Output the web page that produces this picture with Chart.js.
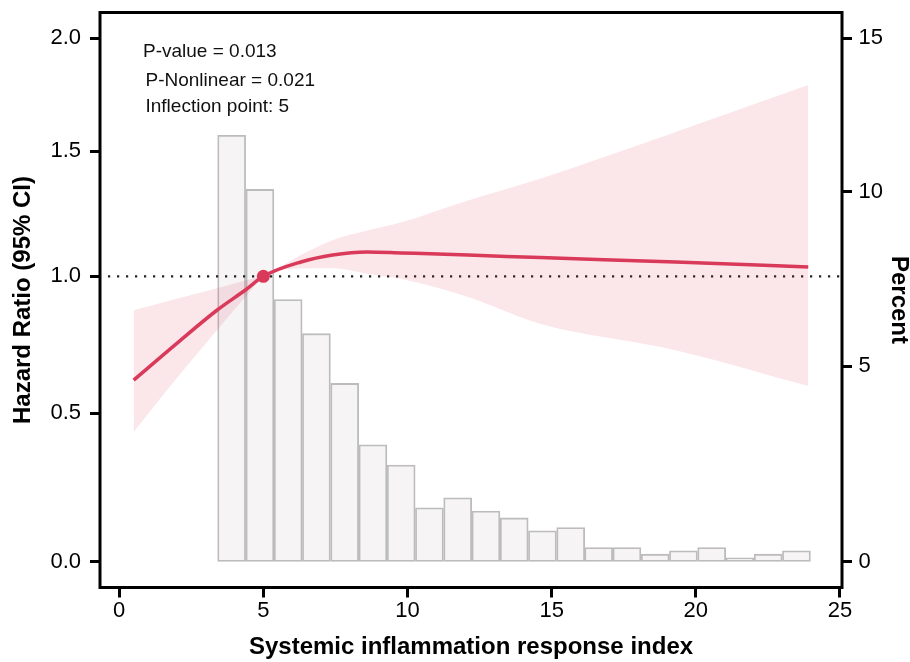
<!DOCTYPE html>
<html><head><meta charset="utf-8">
<script src="https://cdn.jsdelivr.net/npm/chart.js@4.4.1/dist/chart.umd.min.js"></script>
<style>html,body{margin:0;padding:0;background:#fff;}#wrap{width:910px;height:662px;}</style>
</head><body><div id="wrap"><canvas id="c" width="910" height="662"></canvas></div>
<script>
// ---- data ----
const xTicks = [0, 5, 10, 15, 20, 25];
const hrTicks = [0.0, 0.5, 1.0, 1.5, 2.0];
const pctTicks = [0, 5, 10, 15];

const splineX = [0.5, 2.0, 3.4, 4.4, 5.0, 6.3, 7.4, 8.6, 9.8, 12.1, 14.6, 19.3, 23.9];
const hrValues = [0.617, 0.750, 0.873, 0.950, 1.000, 1.055, 1.082, 1.094, 1.090, 1.082, 1.072, 1.055, 1.036];
const hrUpper  = [0.872, 0.915, 0.955, 0.985, 1.003, 1.082, 1.140, 1.178, 1.211, 1.298, 1.386, 1.582, 1.786];
const hrLower  = [0.435, 0.625, 0.800, 0.925, 0.997, 1.030, 1.031, 1.010, 0.990, 0.922, 0.822, 0.725, 0.596];

const binCenters = [3.90, 4.88, 5.86, 6.84, 7.82, 8.80, 9.78, 10.76, 11.74, 12.72, 13.70,
                    14.68, 15.66, 16.63, 17.61, 18.59, 19.57, 20.55, 21.53, 22.51, 23.49];
const binPercent = [11.76, 10.07, 6.84, 5.89, 4.54, 2.93, 2.41, 1.33, 1.58, 1.25, 1.08,
                    0.76, 0.84, 0.35, 0.35, 0.19, 0.27, 0.35, 0.10, 0.19, 0.27];

const inflectionX = [5];
const inflectionY = [1.0];
const referenceHR = 1.0;
const annotationLines = ["P-value = 0.013", "P-Nonlinear = 0.021", "Inflection point: 5"];

// ---- vertical scale matching the reference's axis spacing ----
const WARP = 0.2;
class WarpedScale extends Chart.LinearScale {
  getPixelForDecimal(d) { return super.getPixelForDecimal(d + WARP * d * (1 - d)); }
  getDecimalForPixel(p) {
    const g = super.getDecimalForPixel(p);
    const a = 1 + WARP;
    return (a - Math.sqrt(a * a - 4 * WARP * g)) / (2 * WARP);
  }
}
WarpedScale.id = 'warped';
WarpedScale.defaults = Chart.LinearScale.defaults;
Chart.register(WarpedScale);

const pts = (xs, ys) => xs.map((x, i) => ({x: x, y: ys[i]}));
const RED = '#DA3A5A';
const FONT = "'Liberation Sans', Arial, Helvetica, sans-serif";

const framePlugin = {
  id: 'frame',
  afterDatasetDraw(chart, args) {
    if (args.index !== 0) return;
    const {ctx, chartArea: a} = chart;
    const y = chart.scales.y.getPixelForValue(referenceHR);
    ctx.save();
    ctx.strokeStyle = '#222';
    ctx.lineWidth = 2.2;
    ctx.setLineDash([2.2, 6.8]);
    ctx.beginPath(); ctx.moveTo(a.left + 8, y); ctx.lineTo(a.right, y); ctx.stroke();
    ctx.restore();
  },
  afterDraw(chart) {
    const {ctx, chartArea: a} = chart;
    ctx.save();
    ctx.strokeStyle = '#000';
    ctx.lineWidth = 3;
    ctx.strokeRect(a.left, a.top, a.right - a.left, a.bottom - a.top);
    ctx.fillStyle = '#111';
    ctx.font = "19px " + FONT;
    ctx.textBaseline = 'alphabetic';
    ctx.textAlign = 'left';
    const xs = [143, 145.5, 145.5], ys = [57, 85.5, 111.5];
    annotationLines.forEach((t, i) => ctx.fillText(t, xs[i], ys[i]));
    ctx.restore();
  }
};

const tickGrid = {drawOnChartArea: false, drawTicks: true, tickLength: 10, tickWidth: 3, tickColor: '#000', offset: false};
const noPadY = w => s => { s.width = w; s.paddingTop = 0; s.paddingBottom = 0; };

new Chart(document.getElementById('c'), {
  type: 'line',
  data: {
    datasets: [
      { type: 'bar', data: pts(binCenters, binPercent), xAxisID: 'x', yAxisID: 'y2',
        backgroundColor: '#F6F4F5', borderColor: '#BCBCBC', borderWidth: 1.8, borderSkipped: false,
        barPercentage: 1, categoryPercentage: 1, order: 5 },
      { type: 'line', data: pts(splineX, hrLower), yAxisID: 'y', borderWidth: 0, borderColor: 'rgba(0,0,0,0)',
        pointRadius: 0, fill: false, cubicInterpolationMode: 'monotone', order: 4 },
      { type: 'line', data: pts(splineX, hrUpper), yAxisID: 'y', borderWidth: 0, borderColor: 'rgba(0,0,0,0)',
        pointRadius: 0, fill: '-1', backgroundColor: 'rgba(220,50,80,0.12)', cubicInterpolationMode: 'monotone', order: 3 },
      { type: 'line', data: pts(splineX, hrValues), yAxisID: 'y', borderColor: RED, borderWidth: 3.5,
        pointRadius: 0, fill: false, cubicInterpolationMode: 'monotone', order: 2 },
      { type: 'line', data: pts(inflectionX, inflectionY), yAxisID: 'y', showLine: false,
        pointRadius: 6.5, pointBackgroundColor: RED, pointBorderColor: RED, pointBorderWidth: 0, order: 1 }
    ]
  },
  options: {
    responsive: false,
    animation: false,
    devicePixelRatio: 1,
    layout: { padding: {top: 12.5, left: 0, right: 0, bottom: 0} },
    plugins: { legend: {display: false}, tooltip: {enabled: false} },
    scales: {
      x: {
        type: 'linear', position: 'bottom', min: -0.666, max: 25.07, offset: false,
        afterBuildTicks: s => { s.ticks = xTicks.map(v => ({value: v})); },
        afterFit: s => { s.height = 74.5; s.paddingLeft = 0; s.paddingRight = 0; },
        ticks: { font: {family: FONT, size: 22, lineHeight: 1}, color: '#000', padding: 2.5,
                 maxRotation: 0, autoSkip: false, callback: v => String(v) },
        grid: tickGrid, border: {display: false},
        title: { display: true, text: 'Systemic inflammation response index', color: '#000',
                 font: {family: FONT, size: 24, weight: 'bold'}, padding: {top: 0, bottom: 0} }
      },
      y: {
        type: 'warped', position: 'left', min: -0.082, max: 2.121,
        afterBuildTicks: s => { s.ticks = hrTicks.map(v => ({value: v})); },
        afterFit: noPadY(100),
        ticks: { font: {family: FONT, size: 22, lineHeight: 1}, color: '#000', padding: 9,
                 callback: v => Number(v).toFixed(1) },
        grid: tickGrid, border: {display: false},
        title: { display: true, text: 'Hazard Ratio (95% CI)', color: '#000',
                 font: {family: FONT, size: 24, weight: 'bold'}, padding: {top: 8.6, bottom: 0} }
      },
      y2: {
        type: 'warped', position: 'right', min: -0.615, max: 15.91,
        afterBuildTicks: s => { s.ticks = pctTicks.map(v => ({value: v})); },
        afterFit: noPadY(68),
        ticks: { font: {family: FONT, size: 22, lineHeight: 1}, color: '#000', padding: 6.5,
                 callback: v => String(v) },
        grid: tickGrid, border: {display: false},
        title: { display: true, text: 'Percent', color: '#000',
                 font: {family: FONT, size: 24, weight: 'bold'}, padding: {top: -3, bottom: 0} }
      }
    }
  },
  plugins: [framePlugin]
});
</script>
</body></html>
